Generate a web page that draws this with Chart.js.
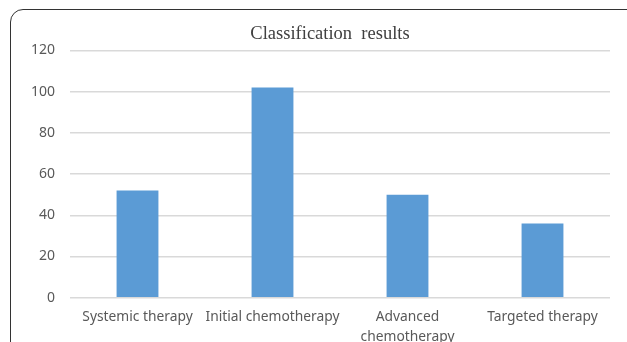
<!DOCTYPE html>
<html>
<head>
<meta charset="utf-8">
<script src="https://cdn.jsdelivr.net/npm/chart.js@4/dist/chart.umd.min.js"></script>
<style>
  html, body { margin: 0; padding: 0; background: #fff; }
  body { width: 627px; height: 342px; overflow: hidden; position: relative; }
  .frame {
    position: absolute; left: 10px; top: 9px; width: 660px; height: 380px;
    border: 1.6px solid #333; border-top-left-radius: 13px; box-sizing: border-box;
  }
  #chart { position: absolute; left: 0; top: 0; }
</style>
</head>
<body>
<div class="frame"></div>
<canvas id="chart" width="627" height="342"></canvas>
<script>
// Number of cases in each treatment class
const categories = ['Systemic therapy', 'Initial chemotherapy', ['Advanced', 'chemotherapy'], 'Targeted therapy'];
const caseCounts = [52, 102, 50, 36];
const yTicks = [0, 20, 40, 60, 80, 100, 120];

const titleText = 'Classification  results';

// Heading drawn above the plot, centred over the frame
const headingPlugin = {
  id: 'heading',
  afterDraw(chart) {
    const ctx = chart.ctx;
    ctx.save();
    ctx.font = '18.5px "Liberation Serif", "Times New Roman", serif';
    ctx.fillStyle = '#404040';
    ctx.textAlign = 'center';
    ctx.textBaseline = 'alphabetic';
    ctx.fillText(titleText, 330, 39);
    ctx.restore();
  }
};

new Chart(document.getElementById('chart'), {
  type: 'bar',
  data: {
    labels: categories,
    datasets: [{
      data: caseCounts,
      backgroundColor: '#5b9bd5',
      borderWidth: 0,
      categoryPercentage: 1,
      barPercentage: 0.31
    }]
  },
  plugins: [headingPlugin],
  options: {
    responsive: false,
    animation: false,
    layout: { padding: { left: 0, right: 17, top: 50.5, bottom: 0 } },
    plugins: {
      legend: { display: false },
      tooltip: { enabled: false },
      title: { display: false }
    },
    scales: {
      x: {
        grid: { display: false, drawTicks: false },
        border: { display: false },
        ticks: {
          color: '#595959',
          font: { family: '"Noto Sans", sans-serif', size: 13.8, lineHeight: 1.45 },
          padding: 9,
          maxRotation: 0,
          autoSkip: false
        },
        afterFit: (scale) => { scale.height = 44.3; }
      },
      y: {
        min: 0,
        max: 120,
        afterBuildTicks: (scale) => { scale.ticks = yTicks.map(v => ({ value: v })); },
        grid: { color: '#d9d9d9', lineWidth: 1.5, drawTicks: false },
        border: { display: false },
        ticks: {
          color: '#595959',
          font: { family: '"Noto Sans", sans-serif', size: 14 },
          padding: 15
        },
        afterFit: (scale) => { scale.width = 70; }
      }
    }
  }
});
</script>
</body>
</html>
